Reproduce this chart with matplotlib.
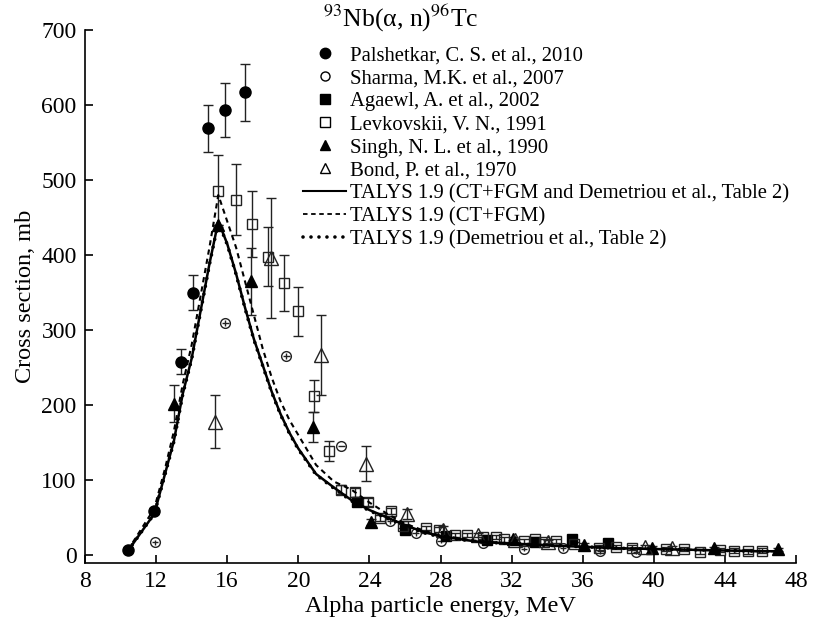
import matplotlib
matplotlib.use('Agg')
import matplotlib.pyplot as plt
from matplotlib.lines import Line2D

plt.rcParams['font.family'] = ['Liberation Serif', 'DejaVu Serif']
plt.rcParams['mathtext.fontset'] = 'stix'

# ---------------- data ----------------
pal_x = [10.4, 11.9, 13.4, 14.1, 14.9, 15.9, 17.0]
pal_y = [7, 59, 258, 350, 569, 593, 617]
pal_e = [2, 4, 17, 23, 31, 36, 38]

sha_x = [11.93, 15.9, 19.33, 22.42, 25.15, 26.6, 28.0, 30.4, 32.7, 34.9, 37.0, 39.0]
sha_y = [17, 310, 265, 146, 45, 29, 19, 16, 8, 9, 5, 4]
sha_e = [3, 4, 4, 0, 3, 3, 3, 3, 3, 3, 3, 3]

aga_x = [23.3, 26.0, 28.3, 30.6, 33.3, 35.4, 37.4]
aga_y = [71, 34, 25, 20, 17, 21, 16]
aga_e = [3, 2, 2, 2, 2, 2, 2]

lev_x = [15.51, 16.52, 17.4, 18.32, 19.2, 20.0, 20.88, 21.7, 22.43, 23.2, 23.93, 24.6,
         25.2, 25.9, 27.2, 27.9, 28.8, 29.5, 30.4, 31.15, 31.6, 32.7, 33.3, 33.8, 34.5,
         35.5, 36.9, 37.9, 38.8, 40.7, 41.7, 42.6, 43.7, 44.5, 45.3, 46.1]
lev_y = [485, 474, 442, 398, 363, 325, 212, 139, 87, 84, 71, 50,
         59, 39, 36, 34, 27, 27, 24, 24, 21, 19, 21, 18, 19,
         15, 10, 11, 10, 8, 8, 4, 7, 6, 5, 6]
lev_e = [48, 47, 44, 39, 37, 33, 21, 13, 6, 6, 5, 4,
         4, 3, 3, 3, 3, 3, 3, 3, 3, 3, 3, 3, 3,
         3, 3, 3, 3, 3, 3, 3, 3, 3, 3, 3]

sin_x = [13.0, 15.5, 17.33, 20.8, 24.1, 32.1, 36.1, 39.9, 43.4, 47.0]
sin_y = [202, 440, 365, 171, 44, 22, 14, 10, 9, 8]
sin_e = [25, 0, 45, 20, 4, 2, 2, 2, 2, 2]

bon_x = [15.3, 18.45, 21.3, 23.8, 26.1, 28.15, 30.1, 32.2, 34.05, 39.5, 41.0]
bon_y = [178, 396, 267, 122, 55, 33, 27, 20, 18, 11, 10]
bon_e = [35, 80, 53, 23, 7, 6, 3, 2, 2, 2, 2]

talys_e = [10.4, 11.9, 12.5, 13.0, 13.5, 14.0, 14.5, 15.0, 15.5, 16.0, 16.5, 17.0,
           17.5, 18.0, 18.5, 19.0, 19.5, 20.0, 21.0, 22.0, 23.0, 24.0, 25.0, 26.0,
           27.0, 28.0, 30.0, 32.0, 34.0, 36.0, 38.0, 40.0, 42.0, 44.0, 46.0, 47.0]
talys_full = [5, 55, 108, 152, 215, 262, 325, 388, 445, 415, 375, 330,
              288, 253, 218, 188, 163, 142, 108, 90, 73, 60, 50, 40,
              31, 25, 18, 15, 13, 11, 9, 8, 7, 6, 5, 5]
talys_ctfgm = [6, 62, 115, 165, 228, 280, 345, 410, 480, 445, 410, 365,
               320, 275, 237, 205, 180, 160, 120, 98, 87, 70, 55, 42,
               33, 26, 19, 15, 13, 11, 9, 8, 7, 6, 5, 5]
talys_dem = [5, 55, 107, 151, 214, 261, 324, 387, 444, 414, 374, 329,
             287, 252, 217, 187, 162, 141, 107, 89, 72, 59, 49, 39,
             30, 24, 18, 15, 13, 11, 9, 8, 7, 6, 5, 5]

labels = ["Palshetkar, C. S. et al., 2010", "Sharma, M.K. et al., 2007",
          "Agaewl, A. et al., 2002", "Levkovskii, V. N., 1991",
          "Singh, N. L. et al., 1990", "Bond, P. et al., 1970",
          "TALYS 1.9 (CT+FGM and Demetriou et al., Table 2)",
          "TALYS 1.9 (CT+FGM)",
          "TALYS 1.9 (Demetriou et al., Table 2)"]

# ---------------- figure ----------------
W, H = 827, 629
fig = plt.figure(figsize=(W / 100, H / 100), dpi=100)
x0, x1, ytop, ybot = 85, 796, 30, 562.5
ax = fig.add_axes([x0 / W, 1 - ybot / H, (x1 - x0) / W, (ybot - ytop) / H])

ebkw = dict(ecolor='#222222', elinewidth=1.0, capsize=3.6, capthick=1.0, linestyle='none', zorder=2)
ax.errorbar(pal_x, pal_y, yerr=pal_e, fmt='o', ms=8, mfc='black', mec='black', **ebkw)
ax.errorbar(sha_x, sha_y, yerr=sha_e, xerr=0.18, fmt='o', ms=7, mfc='none', mec='#222222', mew=1.0,
            **{**ebkw, 'capsize': 0})
ax.errorbar(aga_x, aga_y, yerr=aga_e, fmt='s', ms=6.5, mfc='black', mec='black', **ebkw)
ax.errorbar(lev_x, lev_y, yerr=lev_e, fmt='s', ms=7, mfc='none', mec='#222222', mew=1.0, **ebkw)
ax.errorbar(sin_x, sin_y, yerr=sin_e, fmt='^', ms=9, mfc='black', mec='black', **ebkw)
ax.errorbar(bon_x, bon_y, yerr=bon_e, fmt='^', ms=9.5, mfc='none', mec='#222222', mew=1.0, **ebkw)

ax.plot(talys_e, talys_full, '-', color='black', lw=1.8, zorder=4)
ax.plot(talys_e, talys_ctfgm, color='black', lw=1.5, linestyle=(0, (2.5, 2)), zorder=4)
ax.plot(talys_e, talys_dem, color='black', lw=2.6, linestyle=(0, (0.01, 2.2)),
        dash_capstyle='round', zorder=5)

ax.set_xlim(8, 48)
ax.set_ylim(-10, 700)
ax.set_xticks(range(8, 49, 4))
ax.set_yticks(range(0, 701, 100))
for s in ['top', 'right']:
    ax.spines[s].set_visible(False)
for s in ['left', 'bottom']:
    ax.spines[s].set_linewidth(1.2)
ax.spines['left'].set_bounds(-10, 700)
ax.tick_params(direction='in', length=6, width=1.2, labelsize=17)
ax.tick_params(axis='x', pad=6)
ax.tick_params(axis='y', pad=6)
ax.set_xlabel("Alpha particle energy, MeV", fontsize=17.5, labelpad=3)
ax.set_ylabel("Cross section, mb", fontsize=17.5, labelpad=4)

# legend
handles = [
    Line2D([], [], ls='none', marker='o', ms=7.5, mfc='black', mec='black'),
    Line2D([], [], ls='none', marker='o', ms=6.5, mfc='white', mec='black'),
    Line2D([], [], ls='none', marker='s', ms=6.5, mfc='black', mec='black'),
    Line2D([], [], ls='none', marker='s', ms=6.5, mfc='white', mec='black'),
    Line2D([], [], ls='none', marker='^', ms=7.5, mfc='black', mec='black'),
    Line2D([], [], ls='none', marker='^', ms=7.5, mfc='white', mec='black'),
    Line2D([], [], color='black', lw=1.5),
    Line2D([], [], color='black', lw=1.3, linestyle=(0, (2.5, 2))),
    Line2D([], [], color='black', lw=2.6, linestyle=(0, (0.01, 2.2)), dash_capstyle='round'),
]
fig.legend(handles, labels, loc='upper left', bbox_to_anchor=(303 / W, 1 - 46 / H),
           frameon=False, fontsize=14.9, borderpad=0, borderaxespad=0,
           handlelength=2.1, handletextpad=0.15, labelspacing=0.17)
fig.text(323 / W, 1 - 18 / H, r'$^{93}$Nb(α, n)$^{96}$Tc', fontsize=18.5,
         ha='left', va='center')

fig.savefig('out.png', dpi=100)
